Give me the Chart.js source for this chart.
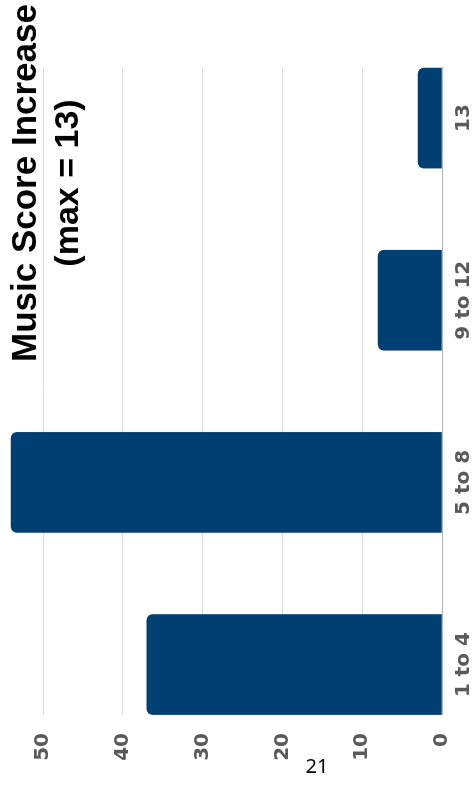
<!DOCTYPE html>
<html>
<head>
<meta charset="utf-8">
<script src="https://cdn.jsdelivr.net/npm/chart.js@4"></script>
<style>
  html, body { margin: 0; padding: 0; background: #fff; }
  body { width: 472px; height: 786px; position: relative; overflow: hidden; }
  /* the chart is laid out landscape, then turned to read bottom-up */
  #sheet {
    position: absolute; left: 0; top: 0;
    width: 786px; height: 472px;
    transform-origin: 0 0;
    transform: translate(0, 786px) rotate(-90deg);
  }
  #myChart { position: absolute; left: 0; top: 0; }
  #title {
    position: absolute; left: 353px; top: 3px; width: 500px;
    text-align: center; white-space: nowrap;
    font: bold 35px/42px "Liberation Sans", Arial, sans-serif;
    color: #000;
  }
  #title span { font-size: 34px; }
  #page {
    position: absolute; left: 0; width: 634px; top: 756px;
    text-align: center;
    font: 20px/20px "Noto Sans", sans-serif; color: #000;
  }
</style>
</head>
<body>
<div id="sheet">
  <canvas id="myChart" width="786" height="472"></canvas>
  <div id="title">Music Score Increase<br><span>(max = 13)</span></div>
</div>
<div id="page">21</div>
<script>
const categories = ['1 to 4', '5 to 8', '9 to 12', '13'];
const counts = [37, 54, 8, 3];
const yTicks = [0, 10, 20, 30, 40, 50];

const ctx = document.getElementById('myChart');
const tickFont = { family: 'DejaVu Sans', size: 20, weight: 'bold' };

const myChart = new Chart(ctx, {
    type: 'bar',
    data: {
        datasets: [{
            data: counts.map((v, i) => ({ x: i, y: v })),
            backgroundColor: '#003f72',
            borderRadius: 6,
            barThickness: 100,
            clip: false,
        }]
    },
    options: {
        responsive: false,
        animation: false,
        layout: {
            padding: { top: 43, right: 68, left: 0, bottom: 0 }
        },
        plugins: {
            legend: { display: false },
            title: { display: false },
            tooltip: { enabled: false }
        },
        scales: {
            x: {
                type: 'linear',
                min: -0.277,
                max: 3.275,
                offset: false,
                grid: { display: false },
                border: { display: true, color: '#b3b3b3', width: 1 },
                afterFit: function(scale) { scale.height = 28; },
                afterBuildTicks: function(scale) {
                    scale.ticks = categories.map((c, i) => ({ value: i }));
                },
                ticks: {
                    autoSkip: false,
                    maxRotation: 0,
                    padding: 2,
                    color: '#5a5a5a',
                    font: tickFont,
                    callback: function(value) {
                        return categories[value];
                    }
                }
            },
            y: {
                min: 0,
                max: 50,
                afterFit: function(scale) { scale.width = 71; },
                afterBuildTicks: function(scale) {
                    scale.ticks = yTicks.map(v => ({ value: v }));
                },
                grid: { color: '#dadada', lineWidth: 1, drawTicks: false },
                border: { display: false },
                ticks: {
                    padding: 18,
                    color: '#5a5a5a',
                    font: tickFont
                }
            }
        }
    },
});
</script>
</body>
</html>
